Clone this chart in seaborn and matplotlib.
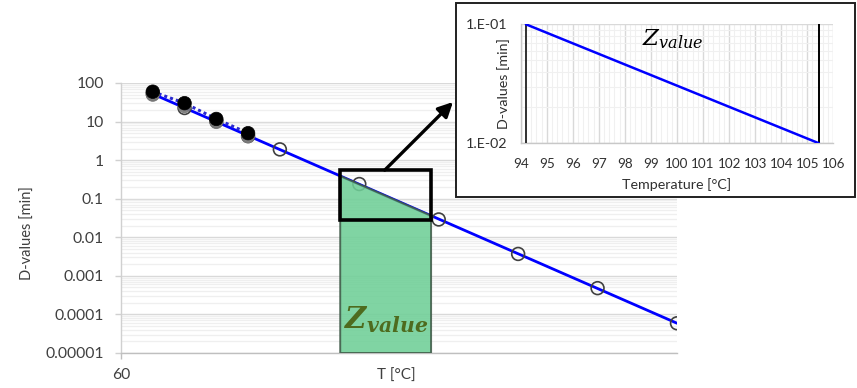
import numpy as np
import matplotlib
matplotlib.use("Agg")
import matplotlib.pyplot as plt
import matplotlib.patheffects as pe
from matplotlib.patches import Polygon, Rectangle
import seaborn as sns

# ---- data -------------------------------------------------------------
temp_open = [65, 70, 75, 80, 85, 97.5, 110, 122.5, 135, 147.5]
d_open = [52, 22.5, 10.2, 4.2, 1.9, 0.24, 0.029, 0.0037, 0.00048, 0.000059]

temp_filled = [65, 70, 75, 80]
d_filled = [59.5, 30, 11.7, 5.0]

y_ticks = [100, 10, 1, 0.1, 0.01, 0.001, 0.0001, 0.00001]
y_tick_labels = ["100", "10", "1", "0.1", "0.01", "0.001", "0.0001", "0.00001"]
x_ticks = [60]
x_tick_labels = ["60"]

# temperature span highlighted as one z-value, and the zoom box
zone_t = [94.5, 108.8]
zone_d = [0.028, 0.55]

# inset: one log decade of D across the z-value
inset_t = [94.2, 105.45]
inset_d = [0.1, 0.01]
inset_x_ticks = list(range(94, 107))
inset_y_ticks = [0.1, 0.01]
inset_y_labels = ["1.E-01", "1.E-02"]

# ---- style ------------------------------------------------------------
sns.set_theme(style="white")
plt.rcParams["font.family"] = ["Lato", "DejaVu Sans"]
plt.rcParams["mathtext.fontset"] = "dejavuserif"

W, H = 857, 388
fig = plt.figure(figsize=(W / 100, H / 100), dpi=100)
fig.patch.set_facecolor("white")

def fx(px):
    return px / W

def fy(py):
    return 1 - py / H

# ---- main chart -------------------------------------------------------
ax = fig.add_axes([fx(121), fy(353), (677 - 121) / W, (353 - 83) / H])
ax.set_yscale("log")
ax.set_xlim(60, 147.5)
ax.set_ylim(1e-5, 100)

# log-linear regression through the open points
coef = np.polyfit(temp_open, np.log10(d_open), 1)
fit_t = np.array([temp_open[0], temp_open[-1]])
fit_d = 10 ** np.polyval(coef, fit_t)

sns.lineplot(x=fit_t, y=fit_d, ax=ax, color="#0000ff", lw=2.0, zorder=3)
sns.lineplot(x=temp_filled, y=d_filled, ax=ax, color="#2a2ad0", lw=2.2,
             linestyle=(0, (1, 1)), zorder=3)
sns.scatterplot(x=temp_open, y=d_open, ax=ax, marker="o", s=85,
                facecolor="none", edgecolor="#404040", linewidth=1.2, zorder=4)
filled = sns.scatterplot(x=temp_filled, y=d_filled, ax=ax, marker="o", s=95,
                         color="black", edgecolor="black", linewidth=0.5, zorder=5)
filled.collections[-1].set_path_effects([
    pe.SimplePatchShadow(offset=(0, -2.4), shadow_rgbFace="#7a7a7a", alpha=0.95),
    pe.Normal(),
])

# green area under the line across the z-value span
poly_t = np.linspace(zone_t[0], zone_t[1], 20)
poly_top = 10 ** np.polyval(coef, poly_t)
verts = [(zone_t[0], 1e-5)] + list(zip(poly_t, poly_top)) + [(zone_t[1], 1e-5)]
ax.add_patch(Polygon(verts, closed=True, facecolor="#6fcf97", alpha=0.88,
                     edgecolor="#3f5a48", lw=1.4, zorder=6))
ax.add_patch(Rectangle((zone_t[0], zone_d[0]), zone_t[1] - zone_t[0],
                       zone_d[1] - zone_d[0], fill=False, edgecolor="black",
                       lw=2.6, zorder=7))
ax.text(95.1, 4.4e-5, r"$\mathbfit{Z}_{\mathbfit{value}}$", fontsize=21,
        color="#4e6b1e", ha="left", va="baseline", zorder=8)

ax.set_yticks(y_ticks)
ax.set_yticklabels(y_tick_labels)
ax.set_xticks(x_ticks)
ax.set_xticklabels(x_tick_labels)
ax.yaxis.set_minor_locator(matplotlib.ticker.LogLocator(base=10, subs=np.arange(2, 10)))
ax.yaxis.set_minor_formatter(matplotlib.ticker.NullFormatter())
ax.grid(True, which="major", axis="y", color="#d9d9d9", lw=1.0)
ax.grid(True, which="minor", axis="y", color="#efefef", lw=0.9)
ax.grid(False, axis="x")
ax.set_axisbelow(True)
for s in ["top", "right"]:
    ax.spines[s].set_visible(False)
ax.spines["left"].set_color("#d0d0d0")
ax.spines["bottom"].set_color("#bfbfbf")
ax.spines["left"].set_linewidth(1.0)
ax.spines["bottom"].set_linewidth(1.0)
ax.tick_params(axis="y", which="major", direction="out", length=4.3, width=1,
               color="#d0d0d0", pad=8, labelsize=11.3, labelcolor="#404040", left=True)
ax.tick_params(axis="y", which="minor", left=False)
ax.tick_params(axis="x", direction="out", length=4, width=1, color="#bfbfbf",
               pad=7, labelsize=11.3, labelcolor="#404040", bottom=True)
ax.set_xlabel("T [°C]", fontsize=11, color="#404040")
ax.set_ylabel("D-values [min]", fontsize=10.5, color="#404040")
ax.xaxis.set_label_coords(0.496, -0.058)
ax.yaxis.set_label_coords(-0.155, 0.444)

# ---- inset frame and axes ---------------------------------------------
fig.add_artist(Rectangle((fx(456), fy(197)), (855 - 456) / W, (197 - 3) / H,
                         transform=fig.transFigure, facecolor="white",
                         edgecolor="#202020", lw=1.4, zorder=10))

ax2 = fig.add_axes([fx(520.7), fy(143.3), (833.3 - 520.7) / W, (143.3 - 24.3) / H],
                   zorder=11)
ax2.set_yscale("log")
ax2.set_xlim(94, 106)
ax2.set_ylim(0.01, 0.1)
sns.lineplot(x=inset_t, y=inset_d, ax=ax2, color="#0000ff", lw=1.8, zorder=4)
ax2.vlines(inset_t[0], inset_d[1], inset_d[0], color="#303030", lw=1.4, zorder=3)
ax2.vlines(inset_t[1], inset_d[1], inset_d[0], color="black", lw=1.4, zorder=3)
ax2.text(98.64, 0.067, r"$Z_{value}$", fontsize=16.5, color="black",
         ha="left", va="baseline")

ax2.set_xticks(inset_x_ticks)
ax2.set_xticklabels([str(t) for t in inset_x_ticks])
ax2.xaxis.set_minor_locator(matplotlib.ticker.MultipleLocator(0.2))
ax2.set_yticks(inset_y_ticks)
ax2.set_yticklabels(inset_y_labels)
ax2.yaxis.set_minor_locator(matplotlib.ticker.LogLocator(base=10, subs=np.arange(2, 10)))
ax2.yaxis.set_minor_formatter(matplotlib.ticker.NullFormatter())
ax2.grid(True, which="major", color="#d9d9d9", lw=1.0)
ax2.grid(True, which="minor", color="#f0f0f0", lw=0.8)
ax2.set_axisbelow(True)
for s in ["top", "right"]:
    ax2.spines[s].set_visible(False)
for s in ["left", "bottom"]:
    ax2.spines[s].set_color("#c8c8c8")
    ax2.spines[s].set_linewidth(1.0)
ax2.tick_params(axis="both", which="major", direction="out", length=3, width=1,
                color="#c8c8c8", labelsize=10.3, labelcolor="#303030")
ax2.tick_params(axis="x", labelsize=9.7)
ax2.tick_params(axis="both", which="minor", length=0)
ax2.tick_params(axis="x", pad=7.5)
ax2.tick_params(axis="y", pad=6.5)
ax2.set_xlabel("Temperature [°C]", fontsize=10.3, color="#303030")
ax2.set_ylabel("D-values [min]", fontsize=10.3, color="#303030")
ax2.xaxis.set_label_coords(0.5, -0.29)
ax2.yaxis.set_label_coords(-0.035, 0.5)

# arrow from the zoom box to the inset
ax.annotate("", xy=(fx(453), fy(102)), xycoords="figure fraction",
            xytext=(101.5, zone_d[1]), textcoords="data",
            arrowprops=dict(arrowstyle="-|>", lw=2.4, color="black",
                            mutation_scale=22, shrinkA=0, shrinkB=0),
            annotation_clip=False, zorder=9)

fig.savefig("out.png", dpi=100, facecolor="white")
